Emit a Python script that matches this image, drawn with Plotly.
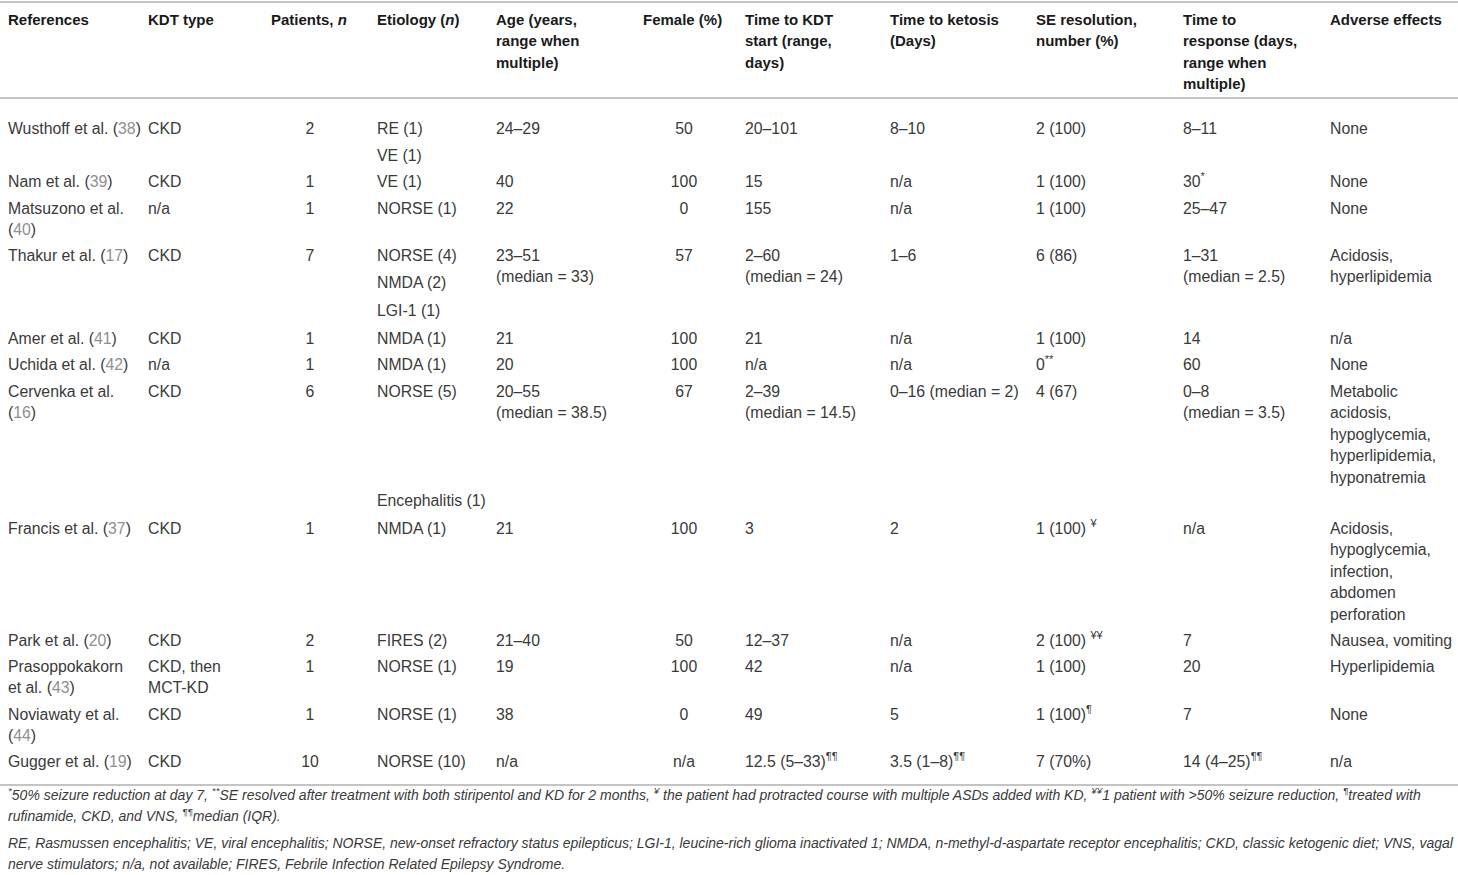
import re
import plotly.graph_objects as go

# ---- table content ----
HEADERS = [
    "References", "KDT type", "Patients, <i>n</i>", "Etiology (<i>n</i>)",
    "Age (years,\nrange when\nmultiple)", "Female (%)",
    "Time to KDT\nstart (range,\ndays)", "Time to ketosis\n(Days)",
    "SE resolution,\nnumber (%)", "Time to\nresponse (days,\nrange when\nmultiple)",
    "Adverse effects",
]
REFERENCES = [
    "Wusthoff et al. (38)", "Nam et al. (39)", "Matsuzono et al.\n(40)",
    "Thakur et al. (17)", "Amer et al. (41)", "Uchida et al. (42)",
    "Cervenka et al.\n(16)", "Francis et al. (37)", "Park et al. (20)",
    "Prasoppokakorn\net al. (43)", "Noviawaty et al.\n(44)", "Gugger et al. (19)",
]
KDT_TYPE = ["CKD", "CKD", "n/a", "CKD", "CKD", "n/a", "CKD", "CKD", "CKD",
            "CKD, then\nMCT-KD", "CKD", "CKD"]
PATIENTS = [2, 1, 1, 7, 1, 1, 6, 1, 2, 1, 1, 10]
ETIOLOGY = [
    ["RE (1)", "VE (1)"], ["VE (1)"], ["NORSE (1)"],
    ["NORSE (4)", "NMDA (2)", "LGI-1 (1)"], ["NMDA (1)"], ["NMDA (1)"],
    ["NORSE (5)", "", "", "", "Encephalitis (1)"], ["NMDA (1)"], ["FIRES (2)"],
    ["NORSE (1)"], ["NORSE (1)"], ["NORSE (10)"],
]
AGE = ["24–29", "40", "22", "23–51\n(median = 33)", "21", "20",
       "20–55\n(median = 38.5)", "21", "21–40", "19", "38", "n/a"]
FEMALE = ["50", "100", "0", "57", "100", "100", "67", "100", "50", "100", "0", "n/a"]
TIME_KDT = ["20–101", "15", "155", "2–60\n(median = 24)", "21", "n/a",
            "2–39\n(median = 14.5)", "3", "12–37", "42", "49",
            "12.5 (5–33)<sup>¶¶</sup>"]
TIME_KETOSIS = ["8–10", "n/a", "n/a", "1–6", "n/a", "n/a", "0–16 (median = 2)",
                "2", "n/a", "n/a", "5", "3.5 (1–8)<sup>¶¶</sup>"]
SE_RESOLUTION = ["2 (100)", "1 (100)", "1 (100)", "6 (86)", "1 (100)",
                 "0<sup>**</sup>", "4 (67)", "1 (100) <sup>¥</sup>",
                 "2 (100) <sup>¥¥</sup>", "1 (100)", "1 (100)<sup>¶</sup>", "7 (70%)"]
TIME_RESPONSE = ["8–11", "30<sup>*</sup>", "25–47", "1–31\n(median = 2.5)", "14", "60",
                 "0–8\n(median = 3.5)", "n/a", "7", "20", "7",
                 "14 (4–25)<sup>¶¶</sup>"]
ADVERSE = ["None", "None", "None", "Acidosis,\nhyperlipidemia", "n/a", "None",
           "Metabolic\nacidosis,\nhypoglycemia,\nhyperlipidemia,\nhyponatremia",
           "Acidosis,\nhypoglycemia,\ninfection,\nabdomen\nperforation",
           "Nausea, vomiting", "Hyperlipidemia", "None", "n/a"]
FOOTNOTES = [
    "<sup>*</sup>50% seizure reduction at day 7, <sup>**</sup>SE resolved after treatment with both "
    "stiripentol and KD for 2 months, <sup>¥</sup> the patient had protracted course with multiple "
    "ASDs added with KD, <sup>¥¥</sup>1 patient with &gt;50% seizure reduction, <sup>¶</sup>treated with",
    "rufinamide, CKD, and VNS, <sup>¶¶</sup>median (IQR).",
    "RE, Rasmussen encephalitis; VE, viral encephalitis; NORSE, new-onset refractory status "
    "epilepticus; LGI-1, leucine-rich glioma inactivated 1; NMDA, n-methyl-d-aspartate receptor "
    "encephalitis; CKD, classic ketogenic diet; VNS, vagal",
    "nerve stimulators; n/a, not available; FIRES, Febrile Infection Related Epilepsy Syndrome.",
]

# ---- layout (pixels) ----
W, H = 1458, 875
COL_X = [8, 148, 310, 377, 496, 684, 745, 890, 1036, 1183, 1330]
COL_CENTER = [False, False, True, False, False, True, False, False, False, False, False]
HEADER_X = [8, 148, 271, 377, 496, 643, 745, 890, 1036, 1183, 1330]
HEADER_Y = 21
ROW_Y = [130, 183, 210, 257, 340, 366, 393, 530, 642, 668, 716, 763]
LINE_GAP = 21.4
ETIO_GAP = 27.3
RULES_Y = [2, 98, 785]
NOTE_Y = [796, 817, 844, 865]
FONT = "Liberation Sans"
TEXT_COLOR = "#3a3a3a"
REF_COLOR = "#8f8f8f"
BODY_SIZE = 15.8
HEAD_SIZE = 15
NOTE_SIZE = 14.0


def ref_markup(s):
    return re.sub(r"\((\d+)\)", r"(<span style='color:%s'>\1</span>)" % REF_COLOR, s)


columns = [
    [ref_markup(s) for s in REFERENCES], KDT_TYPE, [str(p) for p in PATIENTS],
    ETIOLOGY, AGE, FEMALE, TIME_KDT, TIME_KETOSIS, SE_RESOLUTION, TIME_RESPONSE, ADVERSE,
]

fig = go.Figure()

# header
hx, hy, ht = [], [], []
for x, h in zip(HEADER_X, HEADERS):
    for k, line in enumerate(h.split("\n")):
        hx.append(x)
        hy.append(HEADER_Y + k * LINE_GAP)
        ht.append("<b>%s</b>" % line)
fig.add_scatter(x=hx, y=hy, text=ht, mode="text", textposition="middle right",
                textfont=dict(family=FONT, size=HEAD_SIZE, color="#1a1a1a"), hoverinfo="skip")

# body cells
for ci, col in enumerate(columns):
    xs, ys, ts = [], [], []
    for ri, cell in enumerate(col):
        if isinstance(cell, list):
            lines, gap = cell, ETIO_GAP
        else:
            lines, gap = cell.split("\n"), LINE_GAP
        for k, line in enumerate(lines):
            if not line:
                continue
            xs.append(COL_X[ci])
            ys.append(ROW_Y[ri] + k * gap)
            ts.append(line)
    fig.add_scatter(x=xs, y=ys, text=ts, mode="text",
                    textposition="middle center" if COL_CENTER[ci] else "middle right",
                    textfont=dict(family=FONT, size=BODY_SIZE, color=TEXT_COLOR),
                    hoverinfo="skip")

# footnotes
fig.add_scatter(x=[COL_X[0]] * len(FOOTNOTES), y=NOTE_Y,
                text=["<i>%s</i>" % t for t in FOOTNOTES], mode="text",
                textposition="middle right",
                textfont=dict(family=FONT, size=NOTE_SIZE, color=TEXT_COLOR), hoverinfo="skip")

for y in RULES_Y:
    fig.add_shape(type="line", xref="paper", x0=0, x1=1, y0=y, y1=y,
                  line=dict(color="#c4c4c4", width=2))

fig.update_layout(
    width=W, height=H, margin=dict(l=0, r=0, t=0, b=0),
    paper_bgcolor="white", plot_bgcolor="white", showlegend=False,
    xaxis=dict(range=[0, W], visible=False, fixedrange=True),
    yaxis=dict(range=[H, 0], visible=False, fixedrange=True),
)
fig.write_html("out.html", config={"displayModeBar": False},
               post_script="document.body.style.margin='0';")
